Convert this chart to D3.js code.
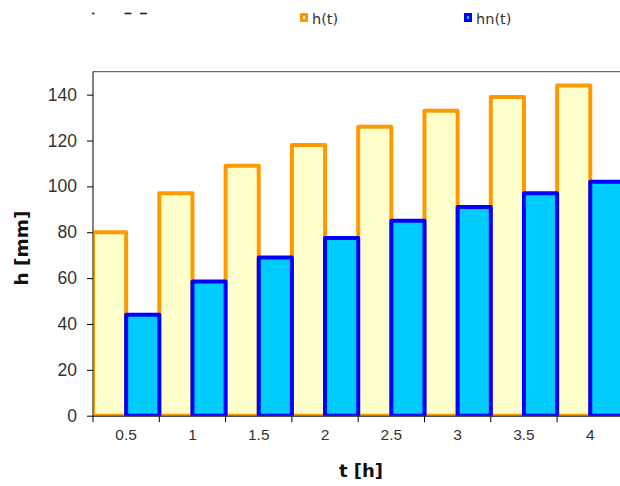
<!DOCTYPE html>
<html><head><meta charset="utf-8">
<script src="https://cdn.jsdelivr.net/npm/d3@7"></script>
<style>html,body{margin:0;padding:0;background:#fff;overflow:hidden}</style>
</head><body>
<script>
const categories = ["0.5","1","1.5","2","2.5","3","3.5","4"];
const seriesNames = ["h(t)","hn(t)"];
const hValues  = [80, 97, 109, 118, 126, 133, 139, 144];
const hnValues = [44, 58.5, 69, 77.5, 85, 91, 97, 102];
const yTicks = [0,20,40,60,80,100,120,140];
const xTitle = "t [h]";
const yTitle = "h [mm]";

const W = 620, H = 486;
const pL = 93, pT = 71.7, pB = 415.7, pR = 623.4;
const strokeCol = ["#FF9900","#0000FF"];
const fillCol = ["#FFFFCC","#00CCFF"];

const svg = d3.select("body").append("svg").attr("width",W).attr("height",H);

const x = d3.scaleBand().domain(categories).range([pL,pR]).padding(0);
const xs = d3.scaleBand().domain(seriesNames).range([0,x.bandwidth()]).padding(0);
const y = d3.scaleLinear().domain([0,150]).range([pB,pT]);

svg.append("defs").append("clipPath").attr("id","plot")
  .append("rect").attr("x",pL+1).attr("y",pT).attr("width",pR-pL).attr("height",pB-pT);

// top border of plot area
svg.append("line").attr("x1",pL).attr("x2",W).attr("y1",pT).attr("y2",pT)
  .attr("stroke","#444").attr("stroke-width",1);

const series = [hValues, hnValues];
const g = svg.append("g").attr("clip-path","url(#plot)");
series.forEach((vals,si)=>{
  g.selectAll(".s"+si).data(vals).enter().append("rect")
    .attr("x",(d,i)=>x(categories[i])+xs(seriesNames[si]))
    .attr("width",xs.bandwidth())
    .attr("y",d=>y(d))
    .attr("height",d=>y(0)-y(d))
    .attr("fill",fillCol[si]).attr("stroke",strokeCol[si]).attr("stroke-width",4)
    .attr("stroke-linejoin","round");
});

// Y axis
const yAxis = svg.append("g").attr("transform",`translate(${pL},0)`)
  .call(d3.axisLeft(y).tickValues(yTicks).tickSize(6).tickPadding(10).tickFormat(d3.format("d")));
yAxis.select(".domain").attr("d",`M0,${pT}V${pB+1}`).attr("stroke","#000");
yAxis.selectAll(".tick line").attr("stroke","#000");
yAxis.selectAll("text").attr("font-family","Liberation Sans, Arial, sans-serif")
  .attr("font-size","17.5px").attr("fill","#333");

// X axis
const xAxis = svg.append("g").attr("transform",`translate(0,${pB+0.5})`)
  .call(d3.axisBottom(x).tickSize(0).tickPadding(13));
xAxis.select(".domain").attr("d",`M${pL},0H${W}`).attr("stroke","#000");
xAxis.selectAll("text").attr("font-family","Liberation Sans, Arial, sans-serif")
  .attr("font-size","15.5px").attr("fill","#333");
const bounds = categories.map(c=>x(c)).concat([x(categories[categories.length-1])+x.bandwidth()]);
xAxis.selectAll(".btick").data(bounds).enter().append("line")
  .attr("x1",d=>d).attr("x2",d=>d).attr("y1",0).attr("y2",6).attr("stroke","#000");

// axis titles
svg.append("text").attr("x",361).attr("y",477).attr("text-anchor","middle")
  .attr("font-family","DejaVu Sans, sans-serif").attr("font-weight","bold")
  .attr("font-size","18px").attr("fill","#111").text(xTitle);
svg.append("text").attr("transform","translate(28,248) rotate(-90)").attr("text-anchor","middle")
  .attr("font-family","DejaVu Sans, sans-serif").attr("font-weight","bold")
  .attr("font-size","18.5px").attr("fill","#111").text(yTitle);

// legend
const legX = [300, 464];
seriesNames.forEach((n,i)=>{
  svg.append("rect").attr("x",legX[i]+1.5).attr("y",14.5).attr("width",5).attr("height",6)
    .attr("fill",fillCol[i]).attr("stroke",strokeCol[i]).attr("stroke-width",3);
  svg.append("text").attr("x",legX[i]+12).attr("y",24).attr("font-family","DejaVu Sans, sans-serif")
    .attr("font-size","14.5px").attr("fill","#333").text(n);
});

// remnants of clipped title
[[92,12.7,2.5,1.6],[124.5,12.7,7,1.6],[140,12.7,7,1.6]].forEach(r=>{
  svg.append("rect").attr("x",r[0]).attr("y",r[1]).attr("width",r[2]).attr("height",r[3]).attr("fill","#222");
});
</script>
</body></html>
